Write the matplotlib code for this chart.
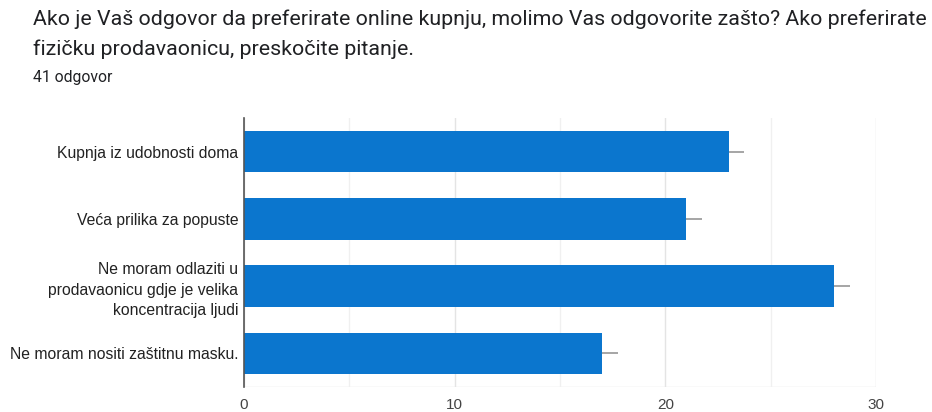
import matplotlib
matplotlib.use("Agg")
import matplotlib.pyplot as plt
import numpy as np

# data
labels = [
    "Kupnja iz udobnosti doma",
    "Veća prilika za popuste",
    "Ne moram odlaziti u\nprodavaonicu gdje je velika\nkoncentracija ljudi",
    "Ne moram nositi zaštitnu masku.",
]
counts = [23, 21, 28, 17]
err = [0.75, 0.75, 0.75, 0.75]
x_ticks = [0, 10, 20, 30]
x_minor = [5, 15, 25]

fig = plt.figure(figsize=(9.32, 4.12), dpi=100)
ax = fig.add_axes([0.2618, 0.0607, 0.6781, 0.6529])

y = np.arange(len(labels))
ax.barh(y, counts, height=0.62, color="#0b76ce", zorder=3)
ax.errorbar(counts, y, xerr=[[0] * len(err), err], fmt="none",
            ecolor="#9e9e9e", elinewidth=1.3, capsize=0, zorder=4)

ax.set_xlim(0, 30)
ax.set_ylim(len(labels) - 0.5, -0.5)
ax.set_yticks(y)
ax.set_yticklabels(labels, fontsize=11.3, color="#222222", family="Liberation Sans",
                   linespacing=1.45)
ax.set_xticks(x_ticks)
ax.set_xticks(x_minor, minor=True)
ax.set_xticklabels([str(t) for t in x_ticks], fontsize=11, color="#444444",
                   family="Liberation Sans")
ax.tick_params(axis="both", which="both", length=0, pad=4)
ax.tick_params(axis="x", pad=8)

ax.grid(axis="x", which="major", color="#e4e4e4", linewidth=1, zorder=0)
ax.grid(axis="x", which="minor", color="#f0f0f0", linewidth=1, zorder=0)
for s in ["top", "right", "bottom"]:
    ax.spines[s].set_visible(False)
ax.spines["left"].set_color("#555555")
ax.spines["left"].set_linewidth(1.2)
ax.spines["left"].set_zorder(5)
ax.axhline(len(labels) - 0.5, color="#e4e4e4", linewidth=1, zorder=0)

x0 = 0.0354
fig.text(x0, 0.94, "Ako je Vaš odgovor da preferirate online kupnju, molimo Vas odgovorite zašto? Ako preferirate",
         fontsize=15.4, family="Roboto", color="#202124", va="baseline")
fig.text(x0, 0.867, "fizičku prodavaonicu, preskočite pitanje.",
         fontsize=15.4, family="Roboto", color="#202124", va="baseline")
fig.text(x0, 0.8, "41 odgovor", fontsize=11.3, family="Roboto", color="#202124",
         va="baseline")

fig.savefig("out.png", dpi=100, facecolor="white")
